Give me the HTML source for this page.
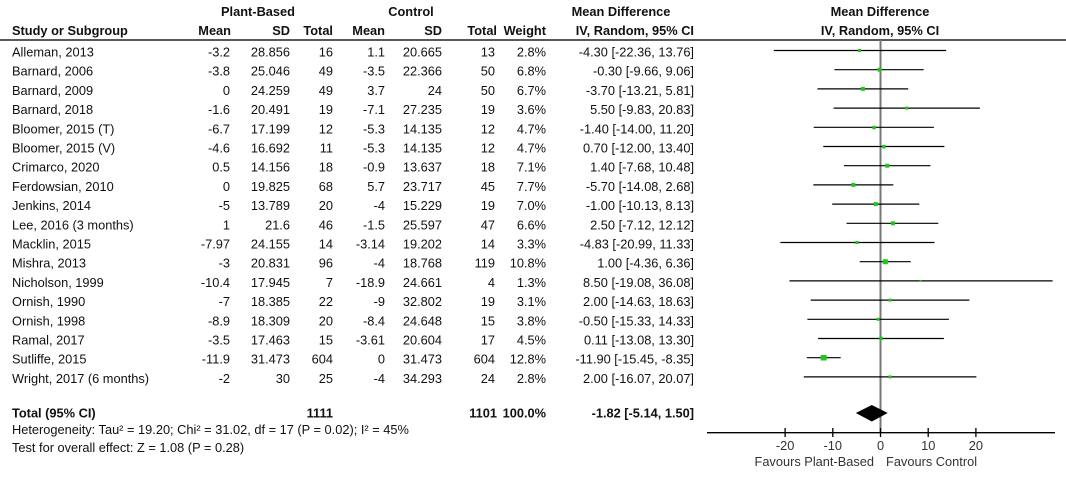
<!DOCTYPE html>
<html><head><meta charset="utf-8"><style>
html,body{margin:0;padding:0;background:#fff;}
svg{display:block;font-family:"Liberation Sans",Arial,sans-serif;font-size:12.8px;fill:#111;}
.b{font-weight:bold;}
</style></head><body>
<svg width="1066" height="480" viewBox="0 0 1066 480" xmlns="http://www.w3.org/2000/svg">
<g class="b">
<text x="258" y="16" text-anchor="middle">Plant-Based</text>
<text x="411" y="16" text-anchor="middle">Control</text>
<text x="621" y="16" text-anchor="middle">Mean Difference</text>
<text x="880" y="16" text-anchor="middle">Mean Difference</text>
<text x="12" y="35">Study or Subgroup</text>
<text x="231" y="35" text-anchor="end">Mean</text>
<text x="290" y="35" text-anchor="end">SD</text>
<text x="333" y="35" text-anchor="end">Total</text>
<text x="385" y="35" text-anchor="end">Mean</text>
<text x="442" y="35" text-anchor="end">SD</text>
<text x="497" y="35" text-anchor="end">Total</text>
<text x="546" y="35" text-anchor="end">Weight</text>
<text x="694" y="35" text-anchor="end">IV, Random, 95% CI</text>
<text x="880" y="35" text-anchor="middle">IV, Random, 95% CI</text>
</g>
<line x1="0" y1="40" x2="1066" y2="40" stroke="#222" stroke-width="1.5"/>
<line x1="880.5" y1="40" x2="880.5" y2="432" stroke="#777" stroke-width="2"/>
<g class="b">
<text x="12" y="417.5">Total (95% CI)</text>
<text x="333" y="417.5" text-anchor="end">1111</text>
<text x="497" y="417.5" text-anchor="end">1101</text>
<text x="546" y="417.5" text-anchor="end">100.0%</text>
<text x="694" y="417.5" text-anchor="end">-1.82 [-5.14, 1.50]</text>
</g>
<text x="12" y="434">Heterogeneity: Tau² = 19.20; Chi² = 31.02, df = 17 (P = 0.02); I² = 45%</text>
<text x="12" y="452">Test for overall effect: Z = 1.08 (P = 0.28)</text>
<polygon points="855.8,413 871.8,405 887.7,413 871.8,421.5" fill="#000"/>
<line x1="707" y1="432.7" x2="1055" y2="432.7" stroke="#000" stroke-width="1.3"/>
<g stroke="#000" stroke-width="1.3">
<line x1="785.1" y1="428" x2="785.1" y2="437"/>
<line x1="832.8" y1="428" x2="832.8" y2="437"/>
<line x1="880.5" y1="428" x2="880.5" y2="437"/>
<line x1="928.2" y1="428" x2="928.2" y2="437"/>
<line x1="975.9" y1="428" x2="975.9" y2="437"/>
</g>
<g fill="#333">
<text x="785.1" y="450" text-anchor="middle">-20</text>
<text x="832.8" y="450" text-anchor="middle">-10</text>
<text x="880.5" y="450" text-anchor="middle">0</text>
<text x="928.2" y="450" text-anchor="middle">10</text>
<text x="975.9" y="450" text-anchor="middle">20</text>
<text x="874" y="466" text-anchor="end">Favours Plant-Based</text>
<text x="886" y="466">Favours Control</text>
</g>
<g transform="translate(0,1.5)">
<text x="12" y="55">Alleman, 2013</text><text x="230" y="55" text-anchor="end">-3.2</text><text x="290" y="55" text-anchor="end">28.856</text><text x="333" y="55" text-anchor="end">16</text><text x="385" y="55" text-anchor="end">1.1</text><text x="442" y="55" text-anchor="end">20.665</text><text x="495" y="55" text-anchor="end">13</text><text x="546" y="55" text-anchor="end">2.8%</text><text x="694" y="55" text-anchor="end">-4.30 [-22.36, 13.76]</text>
<text x="12" y="74.2">Barnard, 2006</text><text x="230" y="74.2" text-anchor="end">-3.8</text><text x="290" y="74.2" text-anchor="end">25.046</text><text x="333" y="74.2" text-anchor="end">49</text><text x="385" y="74.2" text-anchor="end">-3.5</text><text x="442" y="74.2" text-anchor="end">22.366</text><text x="495" y="74.2" text-anchor="end">50</text><text x="546" y="74.2" text-anchor="end">6.8%</text><text x="694" y="74.2" text-anchor="end">-0.30 [-9.66, 9.06]</text>
<text x="12" y="93.4">Barnard, 2009</text><text x="230" y="93.4" text-anchor="end">0</text><text x="290" y="93.4" text-anchor="end">24.259</text><text x="333" y="93.4" text-anchor="end">49</text><text x="385" y="93.4" text-anchor="end">3.7</text><text x="442" y="93.4" text-anchor="end">24</text><text x="495" y="93.4" text-anchor="end">50</text><text x="546" y="93.4" text-anchor="end">6.7%</text><text x="694" y="93.4" text-anchor="end">-3.70 [-13.21, 5.81]</text>
<text x="12" y="112.6">Barnard, 2018</text><text x="230" y="112.6" text-anchor="end">-1.6</text><text x="290" y="112.6" text-anchor="end">20.491</text><text x="333" y="112.6" text-anchor="end">19</text><text x="385" y="112.6" text-anchor="end">-7.1</text><text x="442" y="112.6" text-anchor="end">27.235</text><text x="495" y="112.6" text-anchor="end">19</text><text x="546" y="112.6" text-anchor="end">3.6%</text><text x="694" y="112.6" text-anchor="end">5.50 [-9.83, 20.83]</text>
<text x="12" y="131.8">Bloomer, 2015 (T)</text><text x="230" y="131.8" text-anchor="end">-6.7</text><text x="290" y="131.8" text-anchor="end">17.199</text><text x="333" y="131.8" text-anchor="end">12</text><text x="385" y="131.8" text-anchor="end">-5.3</text><text x="442" y="131.8" text-anchor="end">14.135</text><text x="495" y="131.8" text-anchor="end">12</text><text x="546" y="131.8" text-anchor="end">4.7%</text><text x="694" y="131.8" text-anchor="end">-1.40 [-14.00, 11.20]</text>
<text x="12" y="151">Bloomer, 2015 (V)</text><text x="230" y="151" text-anchor="end">-4.6</text><text x="290" y="151" text-anchor="end">16.692</text><text x="333" y="151" text-anchor="end">11</text><text x="385" y="151" text-anchor="end">-5.3</text><text x="442" y="151" text-anchor="end">14.135</text><text x="495" y="151" text-anchor="end">12</text><text x="546" y="151" text-anchor="end">4.7%</text><text x="694" y="151" text-anchor="end">0.70 [-12.00, 13.40]</text>
<text x="12" y="170.2">Crimarco, 2020</text><text x="230" y="170.2" text-anchor="end">0.5</text><text x="290" y="170.2" text-anchor="end">14.156</text><text x="333" y="170.2" text-anchor="end">18</text><text x="385" y="170.2" text-anchor="end">-0.9</text><text x="442" y="170.2" text-anchor="end">13.637</text><text x="495" y="170.2" text-anchor="end">18</text><text x="546" y="170.2" text-anchor="end">7.1%</text><text x="694" y="170.2" text-anchor="end">1.40 [-7.68, 10.48]</text>
<text x="12" y="189.4">Ferdowsian, 2010</text><text x="230" y="189.4" text-anchor="end">0</text><text x="290" y="189.4" text-anchor="end">19.825</text><text x="333" y="189.4" text-anchor="end">68</text><text x="385" y="189.4" text-anchor="end">5.7</text><text x="442" y="189.4" text-anchor="end">23.717</text><text x="495" y="189.4" text-anchor="end">45</text><text x="546" y="189.4" text-anchor="end">7.7%</text><text x="694" y="189.4" text-anchor="end">-5.70 [-14.08, 2.68]</text>
<text x="12" y="208.6">Jenkins, 2014</text><text x="230" y="208.6" text-anchor="end">-5</text><text x="290" y="208.6" text-anchor="end">13.789</text><text x="333" y="208.6" text-anchor="end">20</text><text x="385" y="208.6" text-anchor="end">-4</text><text x="442" y="208.6" text-anchor="end">15.229</text><text x="495" y="208.6" text-anchor="end">19</text><text x="546" y="208.6" text-anchor="end">7.0%</text><text x="694" y="208.6" text-anchor="end">-1.00 [-10.13, 8.13]</text>
<text x="12" y="227.8">Lee, 2016 (3 months)</text><text x="230" y="227.8" text-anchor="end">1</text><text x="290" y="227.8" text-anchor="end">21.6</text><text x="333" y="227.8" text-anchor="end">46</text><text x="385" y="227.8" text-anchor="end">-1.5</text><text x="442" y="227.8" text-anchor="end">25.597</text><text x="495" y="227.8" text-anchor="end">47</text><text x="546" y="227.8" text-anchor="end">6.6%</text><text x="694" y="227.8" text-anchor="end">2.50 [-7.12, 12.12]</text>
<text x="12" y="247">Macklin, 2015</text><text x="230" y="247" text-anchor="end">-7.97</text><text x="290" y="247" text-anchor="end">24.155</text><text x="333" y="247" text-anchor="end">14</text><text x="385" y="247" text-anchor="end">-3.14</text><text x="442" y="247" text-anchor="end">19.202</text><text x="495" y="247" text-anchor="end">14</text><text x="546" y="247" text-anchor="end">3.3%</text><text x="694" y="247" text-anchor="end">-4.83 [-20.99, 11.33]</text>
<text x="12" y="266.2">Mishra, 2013</text><text x="230" y="266.2" text-anchor="end">-3</text><text x="290" y="266.2" text-anchor="end">20.831</text><text x="333" y="266.2" text-anchor="end">96</text><text x="385" y="266.2" text-anchor="end">-4</text><text x="442" y="266.2" text-anchor="end">18.768</text><text x="495" y="266.2" text-anchor="end">119</text><text x="546" y="266.2" text-anchor="end">10.8%</text><text x="694" y="266.2" text-anchor="end">1.00 [-4.36, 6.36]</text>
<text x="12" y="285.4">Nicholson, 1999</text><text x="230" y="285.4" text-anchor="end">-10.4</text><text x="290" y="285.4" text-anchor="end">17.945</text><text x="333" y="285.4" text-anchor="end">7</text><text x="385" y="285.4" text-anchor="end">-18.9</text><text x="442" y="285.4" text-anchor="end">24.661</text><text x="495" y="285.4" text-anchor="end">4</text><text x="546" y="285.4" text-anchor="end">1.3%</text><text x="694" y="285.4" text-anchor="end">8.50 [-19.08, 36.08]</text>
<text x="12" y="304.6">Ornish, 1990</text><text x="230" y="304.6" text-anchor="end">-7</text><text x="290" y="304.6" text-anchor="end">18.385</text><text x="333" y="304.6" text-anchor="end">22</text><text x="385" y="304.6" text-anchor="end">-9</text><text x="442" y="304.6" text-anchor="end">32.802</text><text x="495" y="304.6" text-anchor="end">19</text><text x="546" y="304.6" text-anchor="end">3.1%</text><text x="694" y="304.6" text-anchor="end">2.00 [-14.63, 18.63]</text>
<text x="12" y="323.8">Ornish, 1998</text><text x="230" y="323.8" text-anchor="end">-8.9</text><text x="290" y="323.8" text-anchor="end">18.309</text><text x="333" y="323.8" text-anchor="end">20</text><text x="385" y="323.8" text-anchor="end">-8.4</text><text x="442" y="323.8" text-anchor="end">24.648</text><text x="495" y="323.8" text-anchor="end">15</text><text x="546" y="323.8" text-anchor="end">3.8%</text><text x="694" y="323.8" text-anchor="end">-0.50 [-15.33, 14.33]</text>
<text x="12" y="343">Ramal, 2017</text><text x="230" y="343" text-anchor="end">-3.5</text><text x="290" y="343" text-anchor="end">17.463</text><text x="333" y="343" text-anchor="end">15</text><text x="385" y="343" text-anchor="end">-3.61</text><text x="442" y="343" text-anchor="end">20.604</text><text x="495" y="343" text-anchor="end">17</text><text x="546" y="343" text-anchor="end">4.5%</text><text x="694" y="343" text-anchor="end">0.11 [-13.08, 13.30]</text>
<text x="12" y="362.2">Sutliffe, 2015</text><text x="230" y="362.2" text-anchor="end">-11.9</text><text x="290" y="362.2" text-anchor="end">31.473</text><text x="333" y="362.2" text-anchor="end">604</text><text x="385" y="362.2" text-anchor="end">0</text><text x="442" y="362.2" text-anchor="end">31.473</text><text x="495" y="362.2" text-anchor="end">604</text><text x="546" y="362.2" text-anchor="end">12.8%</text><text x="694" y="362.2" text-anchor="end">-11.90 [-15.45, -8.35]</text>
<text x="12" y="381.4">Wright, 2017 (6 months)</text><text x="230" y="381.4" text-anchor="end">-2</text><text x="290" y="381.4" text-anchor="end">30</text><text x="333" y="381.4" text-anchor="end">25</text><text x="385" y="381.4" text-anchor="end">-4</text><text x="442" y="381.4" text-anchor="end">34.293</text><text x="495" y="381.4" text-anchor="end">24</text><text x="546" y="381.4" text-anchor="end">2.8%</text><text x="694" y="381.4" text-anchor="end">2.00 [-16.07, 20.07]</text>
</g>
<g stroke="#000" stroke-width="1.2">
<line x1="773.8" y1="50.5" x2="946.1" y2="50.5"/>
<line x1="834.4" y1="69.7" x2="923.7" y2="69.7"/>
<line x1="817.5" y1="88.9" x2="908.2" y2="88.9"/>
<line x1="833.6" y1="108.1" x2="979.9" y2="108.1"/>
<line x1="813.7" y1="127.3" x2="933.9" y2="127.3"/>
<line x1="823.3" y1="146.5" x2="944.4" y2="146.5"/>
<line x1="843.9" y1="165.7" x2="930.5" y2="165.7"/>
<line x1="813.3" y1="184.9" x2="893.3" y2="184.9"/>
<line x1="832.2" y1="204.1" x2="919.3" y2="204.1"/>
<line x1="846.5" y1="223.3" x2="938.3" y2="223.3"/>
<line x1="780.4" y1="242.5" x2="934.5" y2="242.5"/>
<line x1="859.7" y1="261.7" x2="910.8" y2="261.7"/>
<line x1="789.5" y1="280.9" x2="1052.6" y2="280.9"/>
<line x1="810.7" y1="300.1" x2="969.4" y2="300.1"/>
<line x1="807.4" y1="319.3" x2="948.9" y2="319.3"/>
<line x1="818.1" y1="338.5" x2="943.9" y2="338.5"/>
<line x1="806.8" y1="357.7" x2="840.7" y2="357.7"/>
<line x1="803.8" y1="376.9" x2="976.4" y2="376.9"/>
</g>
<g fill="#1ec81e">
<rect x="858.0" y="49" width="3" height="3"/>
<rect x="877.6" y="67.7" width="4" height="4"/>
<rect x="860.9" y="86.9" width="4" height="4"/>
<rect x="905.2" y="106.6" width="3" height="3"/>
<rect x="872.3" y="125.8" width="3.5" height="3.5"/>
<rect x="882.1" y="145" width="3.5" height="3.5"/>
<rect x="885.2" y="163.7" width="4" height="4"/>
<rect x="851.3" y="182.9" width="4" height="4"/>
<rect x="873.7" y="202.1" width="4" height="4"/>
<rect x="890.9" y="221.3" width="4" height="4"/>
<rect x="855.5" y="241" width="3" height="3"/>
<rect x="882.8" y="259.2" width="5" height="5"/>
<rect x="919.6" y="279.9" width="2" height="2"/>
<rect x="888.5" y="298.6" width="3" height="3"/>
<rect x="876.6" y="317.8" width="3" height="3"/>
<rect x="879.3" y="336.7" width="3.5" height="3.5"/>
<rect x="820.7" y="355" width="6" height="5.5"/>
<rect x="888.5" y="375.4" width="3" height="3"/>
</g>
</svg>
</body></html>
